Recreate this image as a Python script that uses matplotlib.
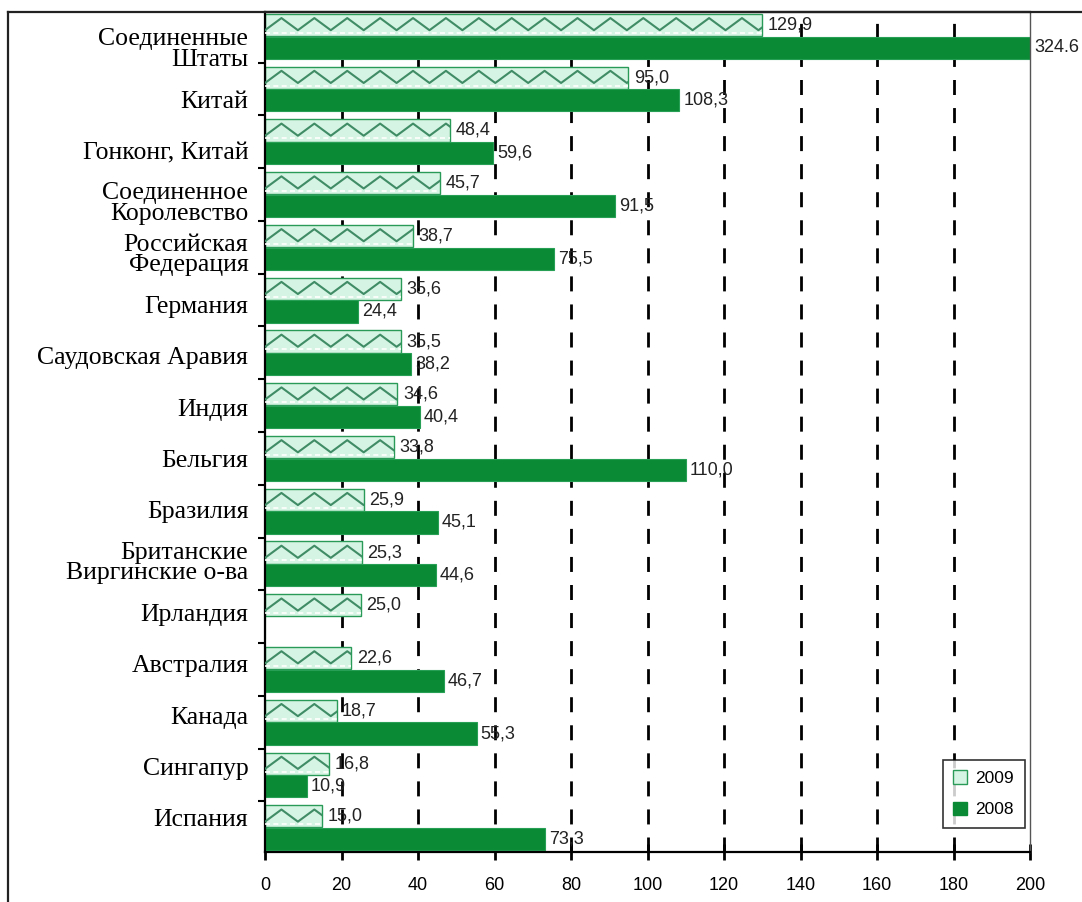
import numpy as np
import matplotlib
matplotlib.use("Agg")
import matplotlib.pyplot as plt
from matplotlib.patches import Patch
from matplotlib.lines import Line2D

# ==========================================
# DATA
# ==========================================
countries = [
    "Соединенные\nШтаты", "Китай", "Гонконг, Китай", "Соединенное\nКоролевство",
    "Российская\nФедерация", "Германия", "Саудовская Аравия", "Индия",
    "Бельгия", "Бразилия", "Британские\nВиргинские о-ва", "Ирландия",
    "Австралия", "Канада", "Сингапур", "Испания",
]
vals_2009 = [129.9, 95.0, 48.4, 45.7, 38.7, 35.6, 35.5, 34.6,
             33.8, 25.9, 25.3, 25.0, 22.6, 18.7, 16.8, 15.0]
vals_2008 = [324.6, 108.3, 59.6, 91.5, 75.5, 24.4, 38.2, 40.4,
             110.0, 45.1, 44.6, np.nan, 46.7, 55.3, 10.9, 73.3]
labels_2009 = ["129,9", "95,0", "48,4", "45,7", "38,7", "35,6", "35,5", "34,6",
               "33,8", "25,9", "25,3", "25,0", "22,6", "18,7", "16,8", "15,0"]
labels_2008 = ["324.6", "108,3", "59,6", "91,5", "75,5", "24,4", "38,2", "40,4",
               "110,0", "45,1", "44,6", "", "46,7", "55,3", "10,9", "73,3"]
x_ticks = [0, 20, 40, 60, 80, 100, 120, 140, 160, 180, 200]

GREEN = "#0b8a35"
MINT = "#d6f4e3"
WAVE = "#3f8c66"
XMAX = 200

# ==========================================
# FIGURE
# ==========================================
fig = plt.figure(figsize=(10.82, 9.02), dpi=100)
ax = fig.add_axes([265 / 1082, 1 - 852 / 902, 765 / 1082, 840 / 902])

n = len(countries)
y = np.arange(n)
h = 0.42
off = 0.215

ax.set_xlim(0, XMAX)
ax.set_ylim(n - 1 + 0.46, -0.46)

# dashed vertical grid
for xv in x_ticks[1:-1]:
    ax.axvline(xv, color="black", lw=2.0, linestyle=(0, (5.4, 4.7)), zorder=1)

# 2009 bars: pale fill with a wavy pattern clipped to each bar
bars09 = ax.barh(y - off, vals_2009, height=h, color=MINT, edgecolor="#2a9a58",
                 linewidth=1.0, zorder=2)
period = 8.6
for rect in bars09:
    w = rect.get_width()
    yt, yb = rect.get_y(), rect.get_y() + rect.get_height()
    xs = np.arange(0, w + period, period / 2)
    ys = np.where(np.arange(len(xs)) % 2 == 0, yb - 0.11, yt + 0.08)
    line, = ax.plot(xs, ys, color=WAVE, lw=1.5, zorder=3)
    line.set_clip_path(rect)
    # light dashed strip along the lower edge of the pattern
    strip, = ax.plot([0, w], [yb - 0.06, yb - 0.06], color="white", lw=1.2,
                     linestyle=(0, (3, 2)), zorder=3)
    strip.set_clip_path(rect)

# 2008 bars: solid green, long ones run to the axis edge
v08 = [min(v, XMAX) if not np.isnan(v) else 0 for v in vals_2008]
ax.barh(y + off, v08, height=h, color=GREEN, edgecolor="#27a055",
        linewidth=0.8, zorder=2)

# value labels
for i in range(n):
    ax.annotate(labels_2009[i], (vals_2009[i], y[i] - off), xytext=(4, 0),
                textcoords="offset points", va="center", ha="left",
                fontsize=13, family="Liberation Sans", color="#222222", zorder=5,
                annotation_clip=False)
    if labels_2008[i]:
        ax.annotate(labels_2008[i], (v08[i], y[i] + off), xytext=(3, 0),
                    textcoords="offset points", va="center", ha="left",
                    fontsize=13, family="Liberation Sans", color="#222222", zorder=5,
                    annotation_clip=False)

# category labels (serif, right aligned against the axis)
label_pos = 0.22 + 0.973 * y
ax.set_yticks(label_pos)
ax.set_yticklabels(countries, family="Liberation Serif", fontsize=18.5,
                   linespacing=0.92)
ax.tick_params(axis="y", which="major", length=0, pad=12)
ax.set_yticks(np.arange(n - 1) + 0.5, minor=True)
ax.tick_params(axis="y", which="minor", length=5, width=1.5, direction="out")

ax.set_xticks(x_ticks)
ax.set_xticklabels([str(t) for t in x_ticks], family="Liberation Sans",
                   fontsize=13)
ax.tick_params(axis="x", direction="inout", length=12, width=2, pad=12)

for side in ["left", "bottom"]:
    ax.spines[side].set_linewidth(1.6)
ax.spines["top"].set_linewidth(1.6)
ax.spines["right"].set_linewidth(1.0)
ax.spines["right"].set_color("#555555")

leg = ax.legend(handles=[Patch(facecolor=MINT, edgecolor="#2a9a58", label="2009"),
                         Patch(facecolor=GREEN, edgecolor=GREEN, label="2008")],
                loc="lower right", bbox_to_anchor=(0.993, 0.029), borderaxespad=0,
                fancybox=False, frameon=True, handlelength=0.8, handleheight=0.8,
                handletextpad=0.5, labelspacing=0.9, borderpad=0.6,
                prop={"family": "Liberation Sans", "size": 12.5})
leg.get_frame().set_edgecolor("black")
leg.get_frame().set_linewidth(1.2)

# outer chart frame
fig.add_artist(Line2D([8 / 1082, 1], [1 - 12 / 902, 1 - 12 / 902],
                      transform=fig.transFigure, color="#222222", lw=1.6))
fig.add_artist(Line2D([8 / 1082, 8 / 1082], [0, 1 - 12 / 902],
                      transform=fig.transFigure, color="#222222", lw=1.6))

fig.savefig("out.png", dpi=100)
